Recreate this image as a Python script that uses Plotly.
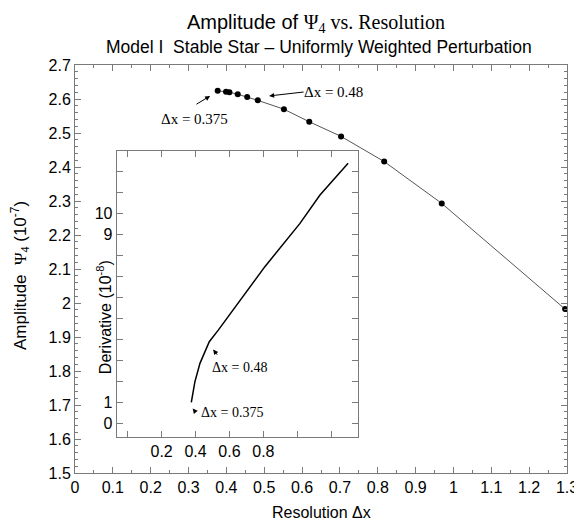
import plotly.graph_objects as go

# ---- data ----
dx_main = [0.377, 0.399, 0.408, 0.430, 0.455, 0.483, 0.552, 0.619, 0.703, 0.817, 0.969, 1.295]
amp_main = [2.624, 2.621, 2.620, 2.614, 2.606, 2.596, 2.570, 2.533, 2.490, 2.416, 2.293, 1.982]

dx_inset = [0.375, 0.396, 0.426, 0.481, 0.534, 0.809, 1.016, 1.134, 1.300]
deriv_inset = [1.00, 1.98, 2.86, 3.89, 4.44, 7.46, 9.52, 10.87, 12.38]

main_xticks = [round(0.1 * i, 1) for i in range(14)]
main_yticks = [round(1.5 + 0.1 * i, 1) for i in range(13)]
inset_xticks = [0.0, 0.2, 0.4, 0.6, 0.8, 1.0, 1.2]
inset_xlabels = ["", "0.2", "0.4", "0.6", "0.8", "", ""]
inset_yticks = list(range(13))
inset_ylabels = ["0", "1", "", "", "", "", "", "", "", "9", "10", "", ""]

SANS = "Liberation Sans, Arial, sans-serif"
SERIF = "Liberation Serif, Times New Roman, serif"
AX = "#7a7a7a"

fig = go.Figure()
fig.add_trace(go.Scatter(x=dx_main, y=amp_main, mode="lines+markers",
                         line=dict(color="#555555", width=1),
                         marker=dict(color="black", size=6),
                         xaxis="x", yaxis="y", showlegend=False))
fig.add_trace(go.Scatter(x=dx_inset, y=deriv_inset, mode="lines",
                         line=dict(color="black", width=1.5),
                         xaxis="x2", yaxis="y2", showlegend=False))

common = dict(showline=True, linecolor=AX, linewidth=1, mirror="ticks",
              ticks="inside", tickcolor=AX, showgrid=False, zeroline=False,
              automargin=False,
              tickfont=dict(family=SANS, size=16, color="black"))

# page body adds an 8px offset, so the figure is 8px smaller with smaller left/top margins
fig.update_layout(
    width=574, height=517,
    margin=dict(l=67, r=15, t=57, b=52),
    plot_bgcolor="white", paper_bgcolor="white",
    xaxis=dict(range=[0, 1.3], tickvals=main_xticks, ticklen=6,
               minor=dict(ticks="inside", dtick=0.05, ticklen=3, tickcolor=AX),
               domain=[0, 1], **common),
    yaxis=dict(range=[1.5, 2.7], tickvals=main_yticks, ticklen=6,
               minor=dict(ticks="inside", dtick=0.02, ticklen=3, tickcolor=AX),
               domain=[0, 1], **common),
    xaxis2=dict(range=[-0.065, 1.36], tickvals=inset_xticks, ticktext=inset_xlabels,
                ticklen=6, anchor="y2", domain=[0.0848, 0.5758], **common),
    yaxis2=dict(range=[-0.63, 12.98], tickvals=inset_yticks, ticktext=inset_ylabels,
                ticklen=6, anchor="x2", domain=[0.089, 0.79], **common),
)

ann = []
# titles
ann.append(dict(xref="paper", yref="paper", x=0.49, y=1.137, xanchor="center", yanchor="top",
                text="Amplitude of <span style='font-family:Liberation Serif'>Ψ<sub>4</sub> vs. Resolution</span>",
                showarrow=False, font=dict(family=SANS, size=20, color="black")))
ann.append(dict(xref="paper", yref="paper", x=0.495, y=1.043, xanchor="center", yanchor="middle",
                text="Model I\u00a0\u00a0Stable Star – Uniformly Weighted Perturbation",
                showarrow=False, font=dict(family=SANS, size=17.5, color="black")))
ann.append(dict(xref="paper", yref="paper", x=0.5, y=-0.096, xanchor="center", yanchor="middle",
                text="Resolution Δx", showarrow=False,
                font=dict(family=SANS, size=16, color="black")))
ann.append(dict(xref="paper", yref="paper", x=-0.112, y=0.485, xanchor="center", yanchor="middle",
                textangle=-90,
                text="Amplitude\u00a0\u00a0<span style='font-family:Liberation Serif'>Ψ<sub>4</sub></span> (10<sup>-7</sup>)",
                showarrow=False, font=dict(family=SANS, size=17, color="black")))
ann.append(dict(xref="paper", yref="paper", x=0.059, y=0.382, xanchor="center", yanchor="middle",
                textangle=-90, text="Derivative (10<sup>-8</sup>)", showarrow=False,
                font=dict(family=SANS, size=16, color="black")))

# main plot labels
ann.append(dict(xref="x", yref="y", x=0.317, y=2.541, text="Δx = 0.375", showarrow=False,
                font=dict(family=SERIF, size=15, color="black")))
ann.append(dict(xref="x", yref="y", x=0.684, y=2.621, text="Δx = 0.48", showarrow=False,
                font=dict(family=SERIF, size=15, color="black")))
ann.append(dict(xref="x", yref="y", axref="x", ayref="y", x=0.357, y=2.609, ax=0.317, ay=2.582,
                text="", showarrow=True, arrowhead=2, arrowsize=1, arrowwidth=1, arrowcolor="black"))
ann.append(dict(xref="x", yref="y", axref="x", ayref="y", x=0.513, y=2.609, ax=0.608, ay=2.621,
                text="", showarrow=True, arrowhead=2, arrowsize=1, arrowwidth=1, arrowcolor="black"))

# inset labels
ann.append(dict(xref="x2", yref="y2", x=0.662, y=2.65, text="Δx = 0.48", showarrow=False,
                font=dict(family=SERIF, size=14, color="black")))
ann.append(dict(xref="x2", yref="y2", x=0.613, y=0.50, text="Δx = 0.375", showarrow=False,
                font=dict(family=SERIF, size=14, color="black")))
ann.append(dict(xref="x2", yref="y2", axref="x2", ayref="y2", x=0.504, y=3.52, ax=0.534, ay=3.20,
                text="", showarrow=True, arrowhead=2, arrowsize=1, arrowwidth=1, arrowcolor="black"))
ann.append(dict(xref="x2", yref="y2", axref="x2", ayref="y2", x=0.383, y=0.71, ax=0.406, ay=0.48,
                text="", showarrow=True, arrowhead=2, arrowsize=1, arrowwidth=1, arrowcolor="black"))

fig.update_layout(annotations=ann)
fig.write_html("out.html")
